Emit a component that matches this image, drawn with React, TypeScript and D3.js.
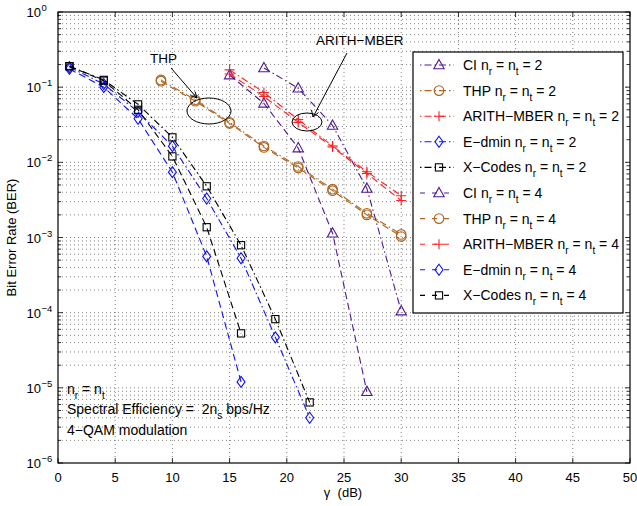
import React from "react";
import * as d3 from "d3";

// ---- data ----
const xCI2 = [18, 21, 24, 27, 30];
const berCI2 = [0.18, 0.097, 0.031, 0.0045, 1.05e-4];
const xCI4 = [15, 18, 21, 24, 27];
const berCI4 = [0.145, 0.061, 0.0155, 0.00114, 8.9e-6];
const xTHP = [9, 12, 15, 18, 21, 24, 27, 30];
const berTHP2 = [0.125, 0.068, 0.034, 0.0165, 0.0088, 0.0044, 0.0021, 0.0011];
const berTHP4 = [0.12, 0.065, 0.033, 0.0158, 0.0084, 0.0042, 0.002, 0.00103];
const xAR = [15, 18, 21, 24, 27, 30];
const berAR2 = [0.17, 0.085, 0.037, 0.0165, 0.0075, 0.0036];
const berAR4 = [0.15, 0.075, 0.034, 0.016, 0.0071, 0.0031];
const xLong = [1, 4, 7, 10, 13, 16, 19, 22];
const xShort = [1, 4, 7, 10, 13, 16];
const berED2 = [0.185, 0.11, 0.047, 0.0164, 0.0033, 0.00053, 4.7e-5, 4e-6];
const berED4 = [0.175, 0.1, 0.038, 0.0074, 0.00056, 1.2e-5];
const berXC2 = [0.19, 0.125, 0.059, 0.0215, 0.0048, 0.00079, 8.2e-5, 6.4e-6];
const berXC4 = [0.19, 0.122, 0.05, 0.012, 0.00137, 5.3e-5];

const xTicks = [0, 5, 10, 15, 20, 25, 30, 35, 40, 45, 50];
const yExps = [0, -1, -2, -3, -4, -5, -6];

type Series = { name: string; n: number; x: number[]; y: number[]; color: string; marker: string };
const series: Series[] = [
  { name: "CI", n: 2, x: xCI2, y: berCI2, color: "#4f1a96", marker: "tri" },
  { name: "THP", n: 2, x: xTHP, y: berTHP2, color: "#b0641e", marker: "circle" },
  { name: "ARITH\u2212MBER", n: 2, x: xAR, y: berAR2, color: "#ff2020", marker: "plus" },
  { name: "E\u2212dmin", n: 2, x: xLong, y: berED2, color: "#1010ff", marker: "diamond" },
  { name: "X\u2212Codes", n: 2, x: xLong, y: berXC2, color: "#000000", marker: "square" },
  { name: "CI", n: 4, x: xCI4, y: berCI4, color: "#4f1a96", marker: "tri" },
  { name: "THP", n: 4, x: xTHP, y: berTHP4, color: "#b0641e", marker: "circle" },
  { name: "ARITH\u2212MBER", n: 4, x: xAR, y: berAR4, color: "#ff2020", marker: "plus" },
  { name: "E\u2212dmin", n: 4, x: xShort, y: berED4, color: "#1010ff", marker: "diamond" },
  { name: "X\u2212Codes", n: 4, x: xShort, y: berXC4, color: "#000000", marker: "square" },
];

const W = 637, H = 506;
const L = 58, R = 630, T = 12, B = 463;
const FONT = "'Liberation Sans', Arial, Helvetica, sans-serif";

function Marker({ kind, cx, cy, color }: { kind: string; cx: number; cy: number; color: string }) {
  const sw = 1.1;
  if (kind === "tri")
    return <path d={`M${cx},${cy - 5.5}L${cx + 5.2},${cy + 3.8}L${cx - 5.2},${cy + 3.8}Z`} fill="none" stroke={color} strokeWidth={sw} />;
  if (kind === "circle") return <circle cx={cx} cy={cy} r={4.8} fill="none" stroke={color} strokeWidth={sw} />;
  if (kind === "plus")
    return <path d={`M${cx - 5},${cy}H${cx + 5}M${cx},${cy - 5}V${cy + 5}`} stroke={color} strokeWidth={sw} />;
  if (kind === "diamond")
    return <path d={`M${cx},${cy - 5.5}L${cx + 4},${cy}L${cx},${cy + 5.5}L${cx - 4},${cy}Z`} fill="none" stroke={color} strokeWidth={sw} />;
  return <rect x={cx - 3.6} y={cy - 3.6} width={7.2} height={7.2} fill="none" stroke={color} strokeWidth={sw} />;
}

const dashFor = (n: number) => (n === 2 ? "7,3,1.5,3" : "7,4");

function Sub({ t }: { t: string }) {
  return (
    <>
      <tspan dy={5} fontSize={10}>{t}</tspan>
      <tspan dy={-5}> </tspan>
    </>
  );
}

export default function App() {
  const x = d3.scaleLinear().domain([0, 50]).range([L, R]);
  const y = d3.scaleLog().domain([1e-6, 1]).range([B, T]);
  const line = d3.line<[number, number]>().x((d) => x(d[0])).y((d) => y(d[1]));

  const minorY: number[] = [];
  for (let e = -6; e < 0; e++) for (let k = 2; k <= 9; k++) minorY.push(k * Math.pow(10, e));
  const majorY = yExps.map((e) => Math.pow(10, e));

  const legX = 413, legY = 52, legW = 210, legH = 261;
  const rowH = 25.6;

  return (
    <svg width={W} height={H} style={{ position: "absolute", left: 0, top: 0, background: "#fff" }} fontFamily={FONT}>
      <rect x={0} y={0} width={W} height={H} fill="#fff" />
      {/* grid */}
      <g stroke="#333" strokeWidth={0.6} strokeDasharray="1,3">
        {xTicks.slice(1, -1).map((t) => (
          <line key={"gx" + t} x1={x(t)} x2={x(t)} y1={T} y2={B} />
        ))}
        {[...minorY, ...majorY.slice(1, -1)].map((v, i) => (
          <line key={"gy" + i} x1={L} x2={R} y1={y(v)} y2={y(v)} />
        ))}
      </g>
      {/* ticks */}
      <g stroke="#000" strokeWidth={0.8}>
        {xTicks.map((t) => (
          <g key={"tx" + t}>
            <line x1={x(t)} x2={x(t)} y1={B} y2={B - 5} />
            <line x1={x(t)} x2={x(t)} y1={T} y2={T + 5} />
          </g>
        ))}
        {majorY.map((v, i) => (
          <g key={"ty" + i}>
            <line x1={L} x2={L + 5} y1={y(v)} y2={y(v)} />
            <line x1={R} x2={R - 5} y1={y(v)} y2={y(v)} />
          </g>
        ))}
        {minorY.map((v, i) => (
          <g key={"tym" + i}>
            <line x1={L} x2={L + 3} y1={y(v)} y2={y(v)} />
            <line x1={R} x2={R - 3} y1={y(v)} y2={y(v)} />
          </g>
        ))}
      </g>
      {/* series */}
      {series.map((s, i) => {
        const pts = s.x.map((xv, j) => [xv, s.y[j]] as [number, number]);
        return (
          <g key={"s" + i}>
            <path d={line(pts) || ""} fill="none" stroke={s.color} strokeWidth={1.1} strokeDasharray={dashFor(s.n)} />
            {pts.map((p, j) => (
              <Marker key={j} kind={s.marker} cx={x(p[0])} cy={y(p[1])} color={s.color} />
            ))}
          </g>
        );
      })}
      {/* axes box */}
      <rect x={L} y={T} width={R - L} height={B - T} fill="none" stroke="#000" strokeWidth={1.2} />
      {/* tick labels */}
      <g fontSize={13} fill="#000">
        {xTicks.map((t) => (
          <text key={"lx" + t} x={x(t)} y={482} textAnchor="middle">{t}</text>
        ))}
        {yExps.map((e) => (
          <g key={"ly" + e}>
            <text x={41} y={y(Math.pow(10, e)) + 5} textAnchor="end">10</text>
            <text x={41.5} y={y(Math.pow(10, e)) - 1} fontSize={9.5}>{e < 0 ? "\u2212" + -e : e}</text>
          </g>
        ))}
      </g>
      <text x={343} y={497} fontSize={13} textAnchor="middle" xmlSpace="preserve">{"\u03b3  (dB)"}</text>
      <text transform={`translate(16,${(T + B) / 2}) rotate(-90)`} fontSize={13} textAnchor="middle">Bit Error Rate (BER)</text>

      {/* annotations */}
      <text x={150} y={63} fontSize={13.5}>THP</text>
      <g stroke="#000" strokeWidth={1} fill="none">
        <line x1={171} y1={68} x2={197} y2={98} />
        <path d="M190.5,95.5 L197,98 L195,91.5" />
        <ellipse cx={209} cy={111} rx={22} ry={13} />
      </g>
      <text x={316} y={45} fontSize={13.5}>ARITH{"\u2212"}MBER</text>
      <g stroke="#000" strokeWidth={1} fill="none">
        <line x1={347} y1={53} x2={313} y2={117} />
        <path d="M311.5,110 L313,117 L318.5,112.5" />
        <ellipse cx={307} cy={122} rx={15} ry={9} />
      </g>

      {/* bottom-left notes */}
      <g fontSize={14}>
        <text x={67} y={394}>n<Sub t="r" />= n<tspan dy={5} fontSize={10}>t</tspan></text>
        <text x={67} y={414} xmlSpace="preserve">Spectral Efficiency =  2n<tspan dy={5} fontSize={10}>s</tspan><tspan dy={-5}> bps/Hz</tspan></text>
        <text x={67} y={435}>4{"\u2212"}QAM modulation</text>
      </g>

      {/* legend */}
      <rect x={legX} y={legY} width={legW} height={legH} fill="#fff" stroke="#000" strokeWidth={1.2} />
      {series.map((s, i) => {
        const cy = 65 + i * rowH;
        return (
          <g key={"lg" + i}>
            <line x1={420} x2={454} y1={cy} y2={cy} stroke={s.color} strokeWidth={1.1} strokeDasharray={s.n === 2 ? "1.5,3,7,3" : "5,7"} />
            <Marker kind={s.marker} cx={439} cy={cy} color={s.color} />
            <text x={463} y={cy + 5} fontSize={14}>
              {s.name} n<Sub t="r" />= n<Sub t="t" />= {s.n}
            </text>
          </g>
        );
      })}
    </svg>
  );
}
